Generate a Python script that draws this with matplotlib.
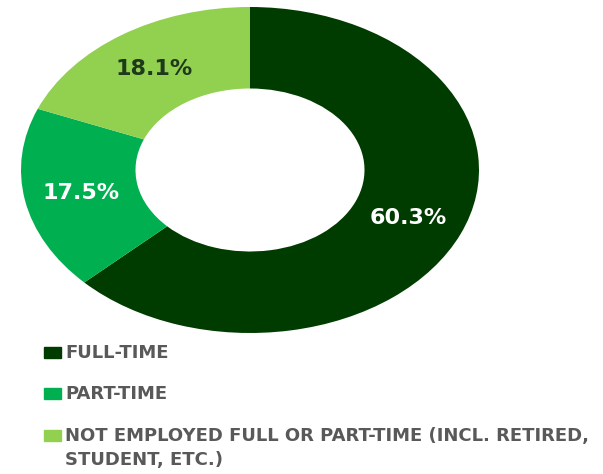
import numpy as np
import matplotlib.pyplot as plt
from matplotlib.patches import Rectangle

# data
categories = ["FULL-TIME", "PART-TIME",
              "NOT EMPLOYED FULL OR PART-TIME (INCL. RETIRED,\nSTUDENT, ETC.)"]
shares = [60.3, 17.5, 18.1]

colors = ["#003c00", "#00b050", "#92d050"]
label_colors = ["white", "white", "#1e3a1a"]

W, H = 603, 474
fig = plt.figure(figsize=(W / 100, H / 100), dpi=100)

# donut is stretched horizontally in the reference, so use a non-equal aspect
cx, cy, rx, ry = 250, 170, 229, 163
ax = fig.add_axes([(cx - rx) / W, 1 - (cy + ry) / H, 2 * rx / W, 2 * ry / H])
wedges, _ = ax.pie(shares, colors=colors, startangle=90, counterclock=False,
                   wedgeprops=dict(width=0.5, edgecolor="none"))
ax.set_aspect("auto")
ax.set_xlim(-1, 1)
ax.set_ylim(-1, 1)

for w, val, c in zip(wedges, shares, label_colors):
    mid = np.deg2rad((w.theta1 + w.theta2) / 2)
    ax.text(0.75 * np.cos(mid), 0.75 * np.sin(mid), f"{val:.1f}%",
            ha="center", va="center", fontsize=16, fontweight="bold", color=c)

# legend, drawn by hand to match the spacing
row_y = [353, 394, 436]
line_gap = 24
for name, col, y in zip(categories, colors, row_y):
    fig.patches.append(Rectangle((44 / W, 1 - (y + 5) / H), 17 / W, 11 / H,
                                 transform=fig.transFigure, color=col))
    for i, line in enumerate(name.split("\n")):
        fig.text(65 / W, 1 - (y + 5 + i * line_gap) / H, line, ha="left",
                 va="baseline", fontsize=13, fontweight="bold",
                 color="#595959")

fig.savefig("out.png", dpi=100)
